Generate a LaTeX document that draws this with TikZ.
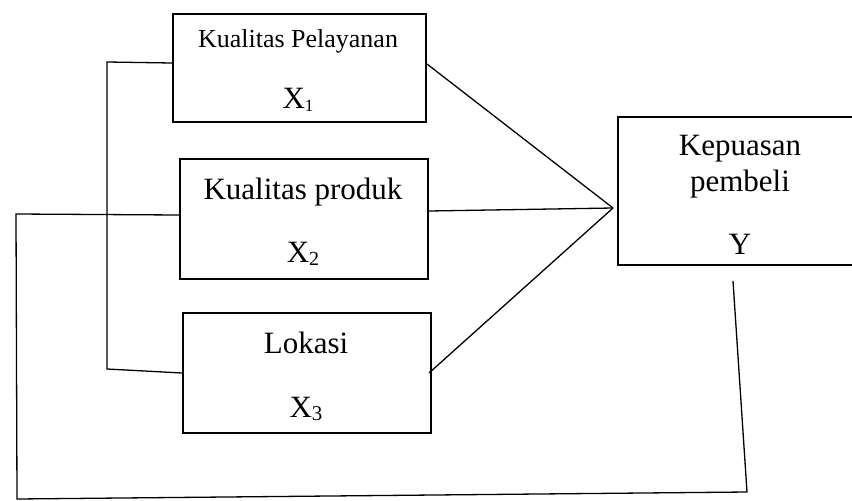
\documentclass[tikz,border=0pt]{standalone}
\usepackage{fontspec}
\setmainfont{Liberation Serif}
\newcommand\mysub[2]{\raisebox{-3pt}{\fontsize{#1}{#1}\selectfont #2}}
\begin{document}
\begin{tikzpicture}[x=1pt,y=-1pt,
  box/.style={draw,line width=2pt,inner sep=0pt,anchor=north west},
  conn/.style={line width=1.3pt},
  lbl/.style={anchor=base,inner sep=0pt},
  big/.style={font=\fontsize{31}{36}\selectfont},
  small/.style={font=\fontsize{26}{30}\selectfont}]
\useasboundingbox (0,0) rectangle (852,501);
\clip (0,0) rectangle (852,501);
\fill[white] (0,0) rectangle (852,501);
% boxes
\node[box,minimum width=253pt,minimum height=108pt] (b1) at (172,13) {};
\node[box,minimum width=248pt,minimum height=120pt] (b2) at (179,158) {};
\node[box,minimum width=248pt,minimum height=120pt] (b3) at (182,312) {};
\node[box,minimum width=246pt,minimum height=148pt] (b4) at (617,116) {};
% texts
\node[lbl,small] (t1) at (298,47) {Kualitas Pelayanan};
\node[lbl,big] (x1) at (298,108) {X\mysub{17}{1}};
\node[lbl,big] (t2) at (303,199) {Kualitas produk};
\node[lbl,big] (x2) at (303,262) {X\mysub{20}{2}};
\node[lbl,big] (t3) at (306,353) {Lokasi};
\node[lbl,big] (x3) at (306,417) {X\mysub{21}{3}};
\node[lbl,big] (t4a) at (740,155) {Kepuasan};
\node[lbl,big] (t4b) at (740,191) {pembeli};
\node[lbl,big] (y) at (740,254) {Y};
% connectors
\coordinate (J) at (613,208);
\coordinate (k1) at (107,62);
\coordinate (k2) at (107,369);
\coordinate (o1) at (16,214);
\coordinate (o2) at (17,499);
\coordinate (o3) at (747,492);
\coordinate (yend) at (733,281);
\draw[conn] ([yshift=4pt]b1.east) -- (J);
\draw[conn] ([yshift=8pt]b2.east) -- (J);
\draw[conn] ([xshift=-3pt]b3.east) -- (J);
\draw[conn] ([yshift=5pt]b1.west) -- (k1) -- (k2) -- (b3.west);
\draw[conn] ([yshift=4pt]b2.west) -- (o1) -- (o2) -- (o3) -- (yend);
\end{tikzpicture}
\end{document}
